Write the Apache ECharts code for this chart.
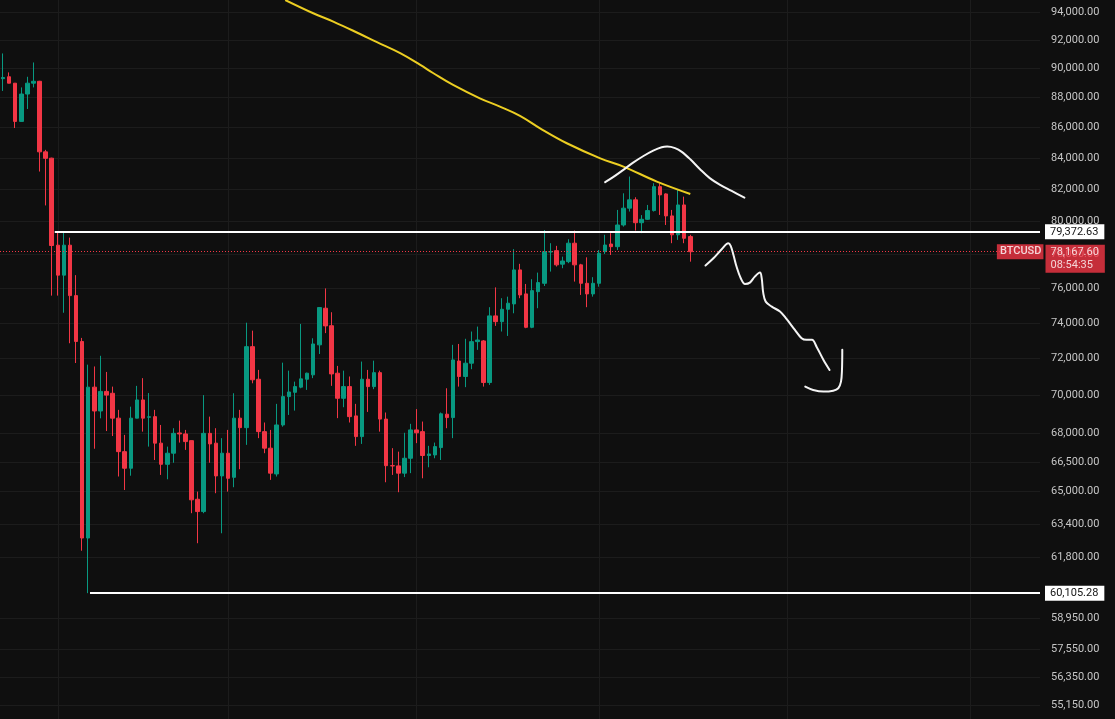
<!DOCTYPE html>
<html>
<head>
<meta charset="utf-8">
<script src="https://cdn.jsdelivr.net/npm/echarts@6/dist/echarts.min.js"></script>
<style>
html,body{margin:0;padding:0;background:#0f0f0f;}
#chart{width:1115px;height:719px;}
</style>
</head>
<body>
<div id="chart"></div>
<script>
// ---------- data ----------
const firstDate = '2026-01-23';
const categoryCount = 171; // daily slots shown (candles + empty right space)

const opens = [89300,89430,88990,86410,88250,88990,89120,84410,84000,78560,
  76770,78560,75570,72950,62710,70430,69150,70200,70100,68770,
  67020,66170,68770,69740,68820,68850,67460,66370,66940,67990,
  67940,67590,64610,64000,67970,67460,65780,66940,65710,68770,
  68270,72660,70860,68060,67200,65880,68410,69920,70150,70430,
  70860,71100,72760,74840,73840,71190,69830,70460,68890,67800,
  70860,70460,71220,68720,66300,66290,65920,66680,68150,68060,
  66820,66850,67230,68980,68800,71860,71010,71740,72940,72980,
  70680,74400,74070,74780,75090,77080,75670,73750,75800,76290,
  78150,78230,77420,77570,78680,77380,76290,75670,76290,78170,
  78630,78470,79790,80830,81350,79930,80140,80680,82180,81720,
  80350,79190,81030,79080];
const closes = [89380,88990,86410,88250,88990,89120,84410,83990,78540,76770,
  78560,75570,72950,62710,70430,69150,70200,70000,68770,67020,
  66170,68770,69740,68770,68840,67460,66370,66940,67970,67940,
  67540,64580,64000,67970,67420,65780,66940,65660,68770,68270,
  72660,70830,68060,67200,65920,68410,69920,70170,70460,70880,
  71190,72810,74880,73830,71150,69830,70460,68850,67800,70860,
  70460,71220,68720,66300,66290,65920,66680,68150,68000,66820,
  66900,67280,69000,68800,71920,71010,71740,72940,73030,70680,
  74400,74070,74780,75130,77080,75610,73750,75860,76330,78170,
  78170,77380,77610,78680,77380,76290,75670,76290,78070,78570,
  78470,79790,80830,81350,79930,80140,80680,82180,81660,80350,
  79190,81030,78980,78167.60];
const lows = [88460,88980,85970,86400,87240,88700,83140,81000,75570,75570,
  74580,72850,71750,62100,60105.28,67170,68760,68090,67830,65750,
  65070,65790,68760,68060,67280,66590,65830,65610,66450,67490,
  67110,63920,62460,63920,66450,64910,62940,64990,65210,66120,
  67370,70640,67720,66940,65580,65750,68320,68940,69170,70370,
  70280,70920,72250,73420,70500,68770,69350,68540,67320,67420,
  69100,70320,68060,65460,65830,64960,65720,65920,67460,65660,
  66220,66680,66590,68240,67720,70460,70430,71410,72480,70460,
  70550,73830,73510,73260,74550,75420,73700,73700,74840,76130,
  76980,77280,77180,77480,76390,75610,74900,75510,76090,78030,
  77970,78270,79690,80620,79450,79290,80100,80620,80410,79790,
  78680,78880,78680,77570];
const highs = [91050,89730,89000,88700,89430,90420,89150,84540,84030,79372.63,
  79300,79020,76770,73150,71660,71560,72150,71260,70460,69210,
  67890,69380,70500,70920,70110,69210,68410,67280,68240,68640,
  68150,67600,64990,70000,68850,68240,67720,68150,70100,69210,
  74010,73560,71370,68540,68150,69530,71770,71330,70730,73940,
  71220,73130,74900,75990,74610,71590,71330,71010,69530,71830,
  71370,71880,71330,69070,67200,67020,68000,68470,69250,68590,
  67320,67490,69070,70370,72760,72810,73100,73510,73790,73030,
  74900,76050,75420,75510,78320,77440,76250,76530,76920,79480,
  78680,78520,77870,78920,79450,77440,77830,76650,78270,79190,
  79290,80720,81760,82820,81510,80400,81030,82400,82400,81760,
  80720,81970,81550,79190];

// yellow moving average, read as [slot, price]
const maPoints = [[46.4,94870],[51.0,93910],[54.3,93310],[58.7,92420],[61.4,91860],
  [65.3,91070],[68.6,90250],[70.7,89690],[74.0,88870],[78.4,87960],[81.7,87400],
  [85.0,86780],[88.3,85950],[92.7,84970],[98.2,83990],[102.0,83460],[107.5,82500],[113.0,81720]];

// hand-drawn strokes, [slot, price]
const bellStroke = [[99.0,82460],[100.3,82780],[102.0,83250],[103.6,83710],[105.3,84140],
  [106.9,84490],[108.3,84710],[109.2,84750],[110.5,84650],[111.6,84410],[113.0,83930],
  [114.6,83290],[116.2,82720],[117.9,82290],[119.8,81910],[121.9,81490]];
const arrowStroke = [[115.5,77340],[116.8,77770],[118.2,78330],[119.25,78680],[119.64,78520],
  [120.1,77970],[120.6,77280],[121.3,76590],[122.0,76250],[122.8,76330],[123.6,76680],
  [124.46,76920],[124.74,76590],[125.0,75710],[125.4,75220],[126.4,74930],[127.75,74650],
  [128.85,74210],[130.2,73600],[131.3,73130],[132.1,73040],[133.0,73040],[133.8,72630],
  [134.9,71920],[135.9,71370]];
const hookStroke = [[131.9,70460],[133.2,70280],[134.9,70190],[136.5,70240],[137.33,70370],
  [137.78,70730],[137.94,71370],[137.99,72480]];

const yTicks = [94000,92000,90000,88000,86000,84000,82000,80000,78000,76000,74000,72000,
  70000,68000,66500,65000,63400,61800,58950,57550,56350,55150];
const yRange = [54558, 94872];

const resistanceLevel = 79372.63, resistanceFromSlot = 8.5;
const supportLevel = 60105.28, supportFromSlot = 14.3;
const lastPrice = 78167.60, lastTime = '08:54:35', symbolName = 'BTCUSD';

// ---------- build ----------
const categories = [];
(function(){
  const d0 = Date.parse(firstDate + 'T00:00:00Z');
  for (let i = 0; i < categoryCount; i++) {
    categories.push(new Date(d0 + i * 86400000).toISOString().slice(0, 10));
  }
})();
const candleData = opens.map((o, i) => [o, closes[i], lows[i], highs[i]]);
const fmt = v => (Math.round(v * 100) / 100).toLocaleString('en-US', {minimumFractionDigits: 2, maximumFractionDigits: 2});

const UP = '#089981', DOWN = '#f23645', GRID = '#1c1c1c', FONT = 'Roboto';
const slotMax = categoryCount - 0.5;

const strokeSeries = (data) => ({
  type: 'line', xAxisIndex: 1, yAxisIndex: 0, data: data, smooth: 0.35,
  symbol: 'none', silent: true, z: 5,
  lineStyle: {color: '#f4f4f4', width: 2, cap: 'round', join: 'round'}
});

const boxLabel = (text) => ({
  show: true, position: 'end', distance: 5, formatter: text,
  backgroundColor: '#ffffff', color: '#131313', padding: [2, 6, 2, 5],
  fontFamily: FONT, fontSize: 11
});

const chart = echarts.init(document.getElementById('chart'));
chart.setOption({
  backgroundColor: '#0f0f0f',
  animation: false,
  grid: {left: 0, right: 75, top: 0, bottom: 0},
  xAxis: [
    {type: 'category', data: categories, boundaryGap: true,
     axisLine: {show: false}, axisTick: {show: false}, axisLabel: {show: false},
     splitLine: {show: true, alignWithLabel: true,
       interval: (idx, val) => val.slice(8) === '01',
       lineStyle: {color: GRID, width: 1}}},
    {type: 'value', min: -0.5, max: slotMax, show: false}
  ],
  yAxis: {
    type: 'log', logBase: 10, position: 'right', min: yRange[0], max: yRange[1],
    axisLine: {show: false},
    axisTick: {show: false, customValues: yTicks},
    axisLabel: {customValues: yTicks, formatter: fmt, color: '#c6c6c6',
      fontFamily: FONT, fontSize: 11, margin: 11},
    splitLine: {show: true, lineStyle: {color: GRID, width: 1}}
  },
  series: [
    {
      type: 'candlestick', name: symbolName, xAxisIndex: 0, data: candleData,
      barWidth: 4, z: 2,
      itemStyle: {color: UP, color0: DOWN, borderColor: UP, borderColor0: DOWN, borderWidth: 1}
    },
    {
      type: 'line', name: 'MA', xAxisIndex: 1, data: maPoints, smooth: 0.4,
      symbol: 'none', silent: true, z: 4,
      lineStyle: {color: '#ecce22', width: 2},
      markLine: {
        silent: true, symbol: ['none', 'none'], animation: false,
        data: [
          [{coord: [resistanceFromSlot, resistanceLevel],
            lineStyle: {color: '#ffffff', width: 2, type: 'solid'},
            label: boxLabel(fmt(resistanceLevel))},
           {coord: [slotMax, resistanceLevel]}],
          [{coord: [supportFromSlot, supportLevel],
            lineStyle: {color: '#ffffff', width: 2, type: 'solid'},
            label: boxLabel(fmt(supportLevel))},
           {coord: [slotMax, supportLevel]}],
          [{coord: [-0.5, lastPrice],
            lineStyle: {color: DOWN, width: 1, type: [1, 2], opacity: 1},
            label: {show: false}},
           {coord: [slotMax, lastPrice]}]
        ]
      }
    },
    strokeSeries(bellStroke),
    strokeSeries(arrowStroke),
    strokeSeries(hookStroke),
    {
      type: 'scatter', xAxisIndex: 1, clip: false, silent: true, z: 7,
      symbol: 'circle', symbolSize: 1, itemStyle: {color: 'rgba(0,0,0,0)'},
      data: [
        {value: [slotMax, lastPrice],
         label: {show: true, position: 'right', distance: 5, offset: [0, 7],
           formatter: fmt(lastPrice) + '\n' + lastTime,
           backgroundColor: DOWN, color: '#ffffff', padding: [1, 6, 1, 5],
           lineHeight: 13, fontFamily: FONT, fontSize: 11}},
        {value: [slotMax + 0.65, lastPrice],
         label: {show: true, position: 'left', distance: 0,
           formatter: symbolName, fontWeight: 500,
           backgroundColor: DOWN, color: '#ffffff', padding: [2, 2, 2, 3],
           fontFamily: FONT, fontSize: 11}}
      ]
    }
  ]
});
</script>
</body>
</html>
